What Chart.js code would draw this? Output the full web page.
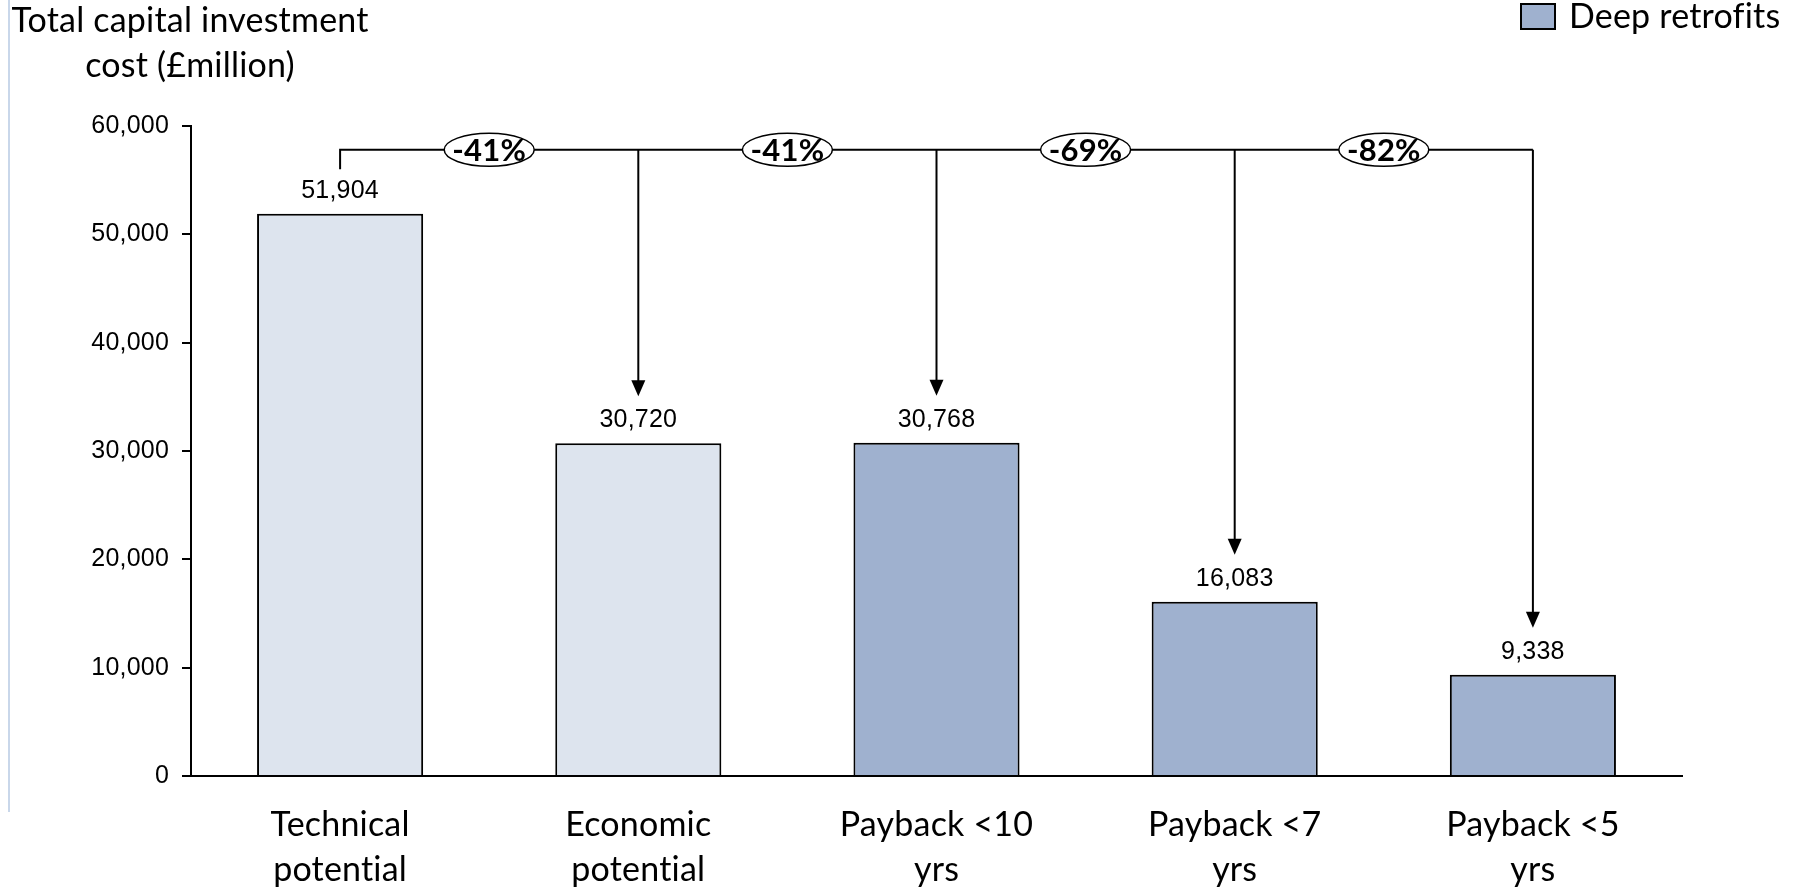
<!DOCTYPE html>
<html>
<head>
<meta charset="utf-8">
<script src="https://cdn.jsdelivr.net/npm/chart.js@4/dist/chart.umd.min.js"></script>
<style>
  html, body { margin: 0; padding: 0; background: #fff; }
  #wrap { width: 1798px; height: 887px; position: relative; }
</style>
</head>
<body>
<div id="wrap"><canvas id="costChart"></canvas></div>
<script>
// Categories and values
const categories = [['Technical', 'potential'], ['Economic', 'potential'], ['Payback <10', 'yrs'], ['Payback <7', 'yrs'], ['Payback <5', 'yrs']];
const potentialValues = [51904, 30720, null, null, null];
const retrofitValues = [null, null, 30768, 16083, 9338];
const reductions = ['-41%', '-41%', '-69%', '-82%'];
const yTicks = [0, 10000, 20000, 30000, 40000, 50000, 60000];

const lightFill = '#dde4ee';
const deepFill = '#9fb1cf';
const uiFont = 'Lato, "Open Sans", sans-serif';
const numFont = '"Liberation Sans", Arial, sans-serif';

// bracket, arrows, percent bubbles, value labels, axis title, legend
const annotations = {
    id: 'annotations',
    beforeDraw(chart) {
        const ctx = chart.ctx;
        // tiny letter spacing keeps Lato from swapping in its "ti" ligature
        ctx.letterSpacing = '0.2px';
        ctx.save();
        ctx.strokeStyle = '#c9d7ea';
        ctx.lineWidth = 2;
        ctx.beginPath();
        ctx.moveTo(9, 0);
        ctx.lineTo(9, 812);
        ctx.stroke();
        ctx.restore();
    },
    afterDatasetsDraw(chart) {
        const { ctx, scales: { y } } = chart;
        const bars = [];
        chart.data.datasets.forEach((ds, di) => {
            const meta = chart.getDatasetMeta(di);
            ds.data.forEach((v, i) => {
                if (v != null) bars[i] = { x: meta.data[i].x, y: meta.data[i].y, v: v };
            });
        });

        ctx.save();
        // value labels
        ctx.fillStyle = '#000';
        ctx.font = '25px ' + numFont;
        ctx.textAlign = 'center';
        ctx.textBaseline = 'middle';
        bars.forEach(b => ctx.fillText(b.v.toLocaleString('en-US'), b.x, b.y - 23));

        // bracket line
        const lineY = y.getPixelForValue(57800);
        const startY = y.getPixelForValue(56000);
        ctx.strokeStyle = '#000';
        ctx.lineWidth = 2;
        ctx.beginPath();
        ctx.moveTo(bars[0].x, startY);
        ctx.lineTo(bars[0].x, lineY);
        ctx.lineTo(bars[bars.length - 1].x, lineY);
        ctx.stroke();

        // arrows down to each following bar
        for (let i = 1; i < bars.length; i++) {
            const tip = bars[i].y - 47;
            ctx.beginPath();
            ctx.moveTo(bars[i].x, lineY);
            ctx.lineTo(bars[i].x, tip - 14);
            ctx.stroke();
            ctx.beginPath();
            ctx.moveTo(bars[i].x - 7, tip - 16);
            ctx.lineTo(bars[i].x + 7, tip - 16);
            ctx.lineTo(bars[i].x, tip);
            ctx.closePath();
            ctx.fill();
        }

        // percent bubbles
        ctx.font = 'bold 31px ' + uiFont;
        reductions.forEach((t, i) => {
            const cx = (bars[i].x + bars[i + 1].x) / 2;
            ctx.beginPath();
            ctx.ellipse(cx, lineY, 45, 16.5, 0, 0, Math.PI * 2);
            ctx.fillStyle = '#fff';
            ctx.fill();
            ctx.lineWidth = 1.5;
            ctx.stroke();
            ctx.fillStyle = '#000';
            ctx.fillText(t, cx, lineY + 1);
        });

        // axis title
        ctx.font = '34px ' + uiFont;
        ctx.fillText('Total capital investment', 190, 21);
        ctx.fillText('cost (£million)', 190, 66);

        // legend
        ctx.fillStyle = deepFill;
        ctx.fillRect(1521, 4, 34, 25);
        ctx.lineWidth = 2;
        ctx.strokeRect(1521, 4, 34, 25);
        ctx.fillStyle = '#000';
        ctx.textAlign = 'left';
        ctx.fillText('Deep retrofits', 1569, 17);
        ctx.restore();
    }
};

window.addEventListener('DOMContentLoaded', () => {
    new Chart(document.getElementById('costChart'), {
        type: 'bar',
        data: {
            labels: categories,
            datasets: [
                { label: 'Potential', data: potentialValues, backgroundColor: lightFill, borderColor: '#000', borderWidth: 2 },
                { label: 'Deep retrofits', data: retrofitValues, backgroundColor: deepFill, borderColor: '#000', borderWidth: 2 }
            ]
        },
        options: {
            responsive: true,
            maintainAspectRatio: false,
            animation: false,
            layout: { padding: { top: 126, right: 116, left: 0, bottom: 0 } },
            datasets: { bar: { categoryPercentage: 1, barPercentage: 0.557 } },
            plugins: {
                legend: { display: false },
                tooltip: { enabled: false }
            },
            scales: {
                x: {
                    stacked: true,
                    grid: { display: false, drawTicks: false },
                    border: { display: true, color: '#000', width: 2 },
                    ticks: { color: '#000', padding: 27, maxRotation: 0, font: { family: uiFont, size: 34, lineHeight: 1.32 } },
                    afterFit: s => { s.height = 111; }
                },
                y: {
                    stacked: true,
                    min: 0,
                    max: 60000,
                    afterBuildTicks: s => { s.ticks = yTicks.map(v => ({ value: v })); },
                    grid: { drawOnChartArea: false, drawTicks: true, tickLength: 9, color: '#000', lineWidth: 2 },
                    border: { display: true, color: '#000', width: 2 },
                    ticks: {
                        color: '#000',
                        padding: 13,
                        font: { family: numFont, size: 25 },
                        callback: v => v.toLocaleString('en-US')
                    },
                    afterFit: s => { s.width = 191; }
                }
            }
        },
        plugins: [annotations]
    });
});
</script>
</body>
</html>
